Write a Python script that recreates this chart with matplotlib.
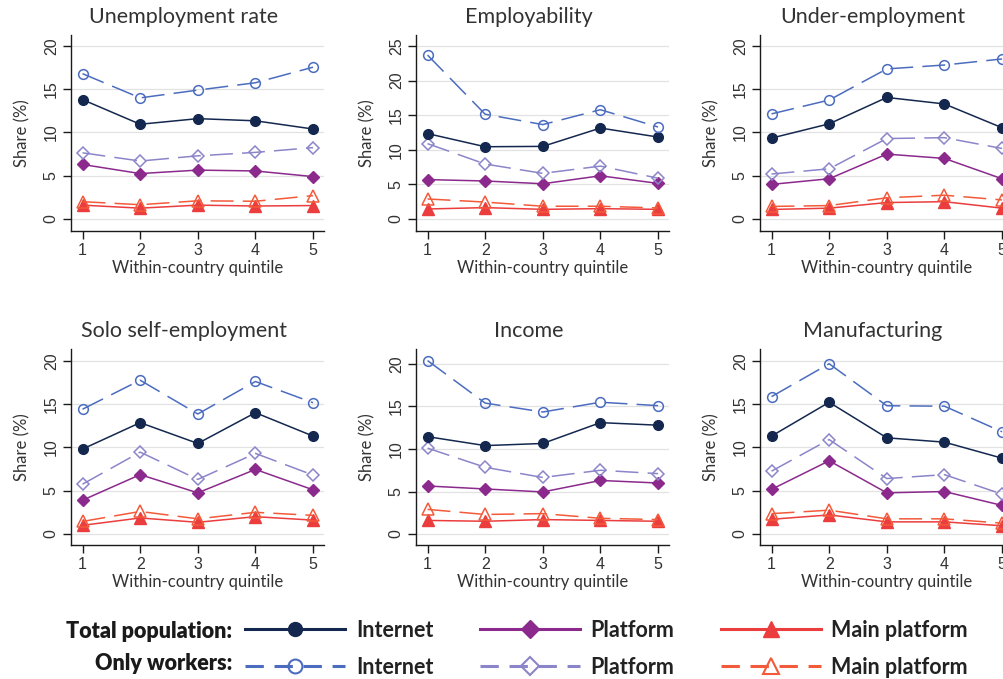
import matplotlib
matplotlib.use("Agg")
import matplotlib.pyplot as plt
from matplotlib.lines import Line2D

quintiles = [1, 2, 3, 4, 5]

panel_titles = ["Unemployment rate", "Employability", "Under-employment",
                "Solo self-employment", "Income", "Manufacturing"]

# total population
tot_internet = [
    [13.8, 10.95, 11.6, 11.35, 10.4],
    [12.35, 10.45, 10.5, 13.15, 11.85],
    [9.35, 11.0, 14.05, 13.3, 10.55],
    [9.8, 12.85, 10.45, 14.0, 11.3],
    [11.45, 10.4, 10.65, 13.1, 12.8],
    [11.3, 15.2, 11.1, 10.6, 8.75],
]
tot_platform = [
    [6.3, 5.25, 5.65, 5.55, 4.9],
    [5.7, 5.5, 5.1, 6.25, 5.15],
    [4.0, 4.65, 7.5, 7.0, 4.65],
    [3.9, 6.85, 4.75, 7.45, 5.1],
    [5.65, 5.3, 4.95, 6.3, 6.0],
    [5.15, 8.45, 4.75, 4.9, 3.3],
]
tot_main = [
    [1.6, 1.25, 1.6, 1.5, 1.55],
    [1.45, 1.65, 1.4, 1.5, 1.4],
    [1.1, 1.25, 1.9, 2.0, 1.25],
    [1.0, 1.85, 1.35, 2.0, 1.6],
    [1.6, 1.5, 1.7, 1.6, 1.5],
    [1.7, 2.2, 1.4, 1.4, 0.95],
]

# only workers
wrk_internet = [
    [16.8, 14.0, 14.9, 15.75, 17.55],
    [23.7, 15.15, 13.65, 15.8, 13.3],
    [12.15, 13.75, 17.35, 17.8, 18.5],
    [14.4, 17.75, 13.85, 17.6, 15.15],
    [20.4, 15.4, 14.35, 15.5, 15.1],
    [15.85, 19.65, 14.8, 14.75, 11.8],
]
wrk_platform = [
    [7.65, 6.7, 7.3, 7.7, 8.25],
    [10.9, 7.95, 6.6, 7.65, 5.9],
    [5.2, 5.8, 9.3, 9.4, 8.15],
    [5.75, 9.45, 6.3, 9.3, 6.8],
    [10.1, 7.85, 6.65, 7.5, 7.1],
    [7.25, 10.9, 6.4, 6.85, 4.6],
]
wrk_main = [
    [2.0, 1.65, 2.1, 2.05, 2.7],
    [2.9, 2.45, 1.85, 1.85, 1.6],
    [1.45, 1.55, 2.45, 2.75, 2.2],
    [1.45, 2.6, 1.75, 2.5, 2.15],
    [2.9, 2.3, 2.4, 1.85, 1.7],
    [2.35, 2.75, 1.75, 1.75, 1.25],
]

y_ticks = [
    [0, 5, 10, 15, 20],
    [0, 5, 10, 15, 20, 25],
    [0, 5, 10, 15, 20],
    [0, 5, 10, 15, 20],
    [0, 5, 10, 15, 20],
    [0, 5, 10, 15, 20],
]
y_lims = [(-1.39, 21.27), (-1.73, 26.6), (-1.39, 21.27),
          (-1.27, 21.35), (-1.29, 21.76), (-1.27, 21.35)]

NAVY = "#14284f"
BLUE = "#4b6cbf"
PURPLE = "#8b2a8c"
LAVENDER = "#8b85c9"
RED = "#eb3d3d"
ORANGE = "#f35a3a"

TXT = "#333333"
W, H = 1004, 679

fig = plt.figure(figsize=(W / 100, H / 100), dpi=100)

col_left = [71, 416, 760]
row_top = [35, 349]
ax_w, ax_h = 253, 196

dash = (15, 6)

for i in range(6):
    r, c = divmod(i, 3)
    ax = fig.add_axes([col_left[c] / W, 1 - (row_top[r] + ax_h) / H, ax_w / W, ax_h / H])

    ax.plot(quintiles, tot_main[i], color=RED, lw=1.1, marker="^", ms=8, zorder=3)
    ax.plot(quintiles, wrk_main[i], color=ORANGE, lw=1.1, dashes=dash, marker="^", ms=8,
            mfc="none", mew=1.1, zorder=3)
    ax.plot(quintiles, tot_platform[i], color=PURPLE, lw=1.1, marker="D", ms=6.5, zorder=3)
    ax.plot(quintiles, wrk_platform[i], color=LAVENDER, lw=1.1, dashes=dash, marker="D", ms=6.5,
            mfc="none", mew=1.1, zorder=3)
    ax.plot(quintiles, tot_internet[i], color=NAVY, lw=1.1, marker="o", ms=7, zorder=3)
    ax.plot(quintiles, wrk_internet[i], color=BLUE, lw=1.1, dashes=dash, marker="o", ms=7,
            mfc="none", mew=1.1, zorder=3)

    ax.set_xlim(0.8, 5.19)
    ax.set_ylim(*y_lims[i])
    ax.set_xticks(quintiles)
    ax.set_yticks(y_ticks[i])
    ax.grid(axis="y", color="#e2e2e2", lw=0.9)
    ax.set_axisbelow(True)
    for s in ["top", "right"]:
        ax.spines[s].set_visible(False)
    for s in ["left", "bottom"]:
        ax.spines[s].set_color("#1a1a1a")
        ax.spines[s].set_linewidth(1.0)
    ax.tick_params(length=5.8, width=1.0, color="#1a1a1a", pad=3,
                   labelsize=11.5, labelcolor=TXT)
    for lab in ax.get_yticklabels():
        lab.set_rotation(90)
        lab.set_va("center")
        lab.set_family("Liberation Sans")
    for lab in ax.get_xticklabels():
        lab.set_family("Liberation Sans")

    ax.set_xlabel("Within-country quintile", fontsize=12, family="Lato", color=TXT, labelpad=1)
    ax.set_ylabel("Share (%)", fontsize=12, family="Lato", color=TXT)
    ax.yaxis.set_label_coords(-0.16, 0.5)
    ax.text(0.445, 1.092, panel_titles[i], transform=ax.transAxes, ha="center", va="center",
            fontsize=15.5, family="Lato", color=TXT)

# legend
handles = [
    Line2D([], [], color=NAVY, lw=2.2, marker="o", ms=10),
    Line2D([], [], color=BLUE, lw=2.2, dashes=(6, 3.5), marker="o", ms=10, mfc="none", mew=1.5),
    Line2D([], [], color=PURPLE, lw=2.2, marker="D", ms=9),
    Line2D([], [], color=LAVENDER, lw=2.2, dashes=(6, 3.5), marker="D", ms=9, mfc="none", mew=1.5),
    Line2D([], [], color=RED, lw=2.2, marker="^", ms=11),
    Line2D([], [], color=ORANGE, lw=2.2, dashes=(6, 3.5), marker="^", ms=11, mfc="none", mew=1.5),
]
labels = ["Internet", "Internet", "Platform", "Platform", "Main platform", "Main platform"]
fig.legend(handles, labels, ncol=3, loc="upper left", bbox_to_anchor=(245 / W, 1 - 620 / H),
           frameon=False, borderpad=0, borderaxespad=0, handlelength=4.65, handletextpad=0.5,
           columnspacing=2.15, labelspacing=0.72,
           prop={"family": "Lato", "weight": "bold", "size": 15.5}, labelcolor="#222222")

fig.text(232 / W, 1 - 631 / H, "Total population:", ha="right", va="center",
         family="Lato", weight="heavy", size=15.5, color="#1a1a1a")
fig.text(232 / W, 1 - 664 / H, "Only workers:", ha="right", va="center",
         family="Lato", weight="heavy", size=15.5, color="#1a1a1a")

fig.savefig("out.png", dpi=100)
